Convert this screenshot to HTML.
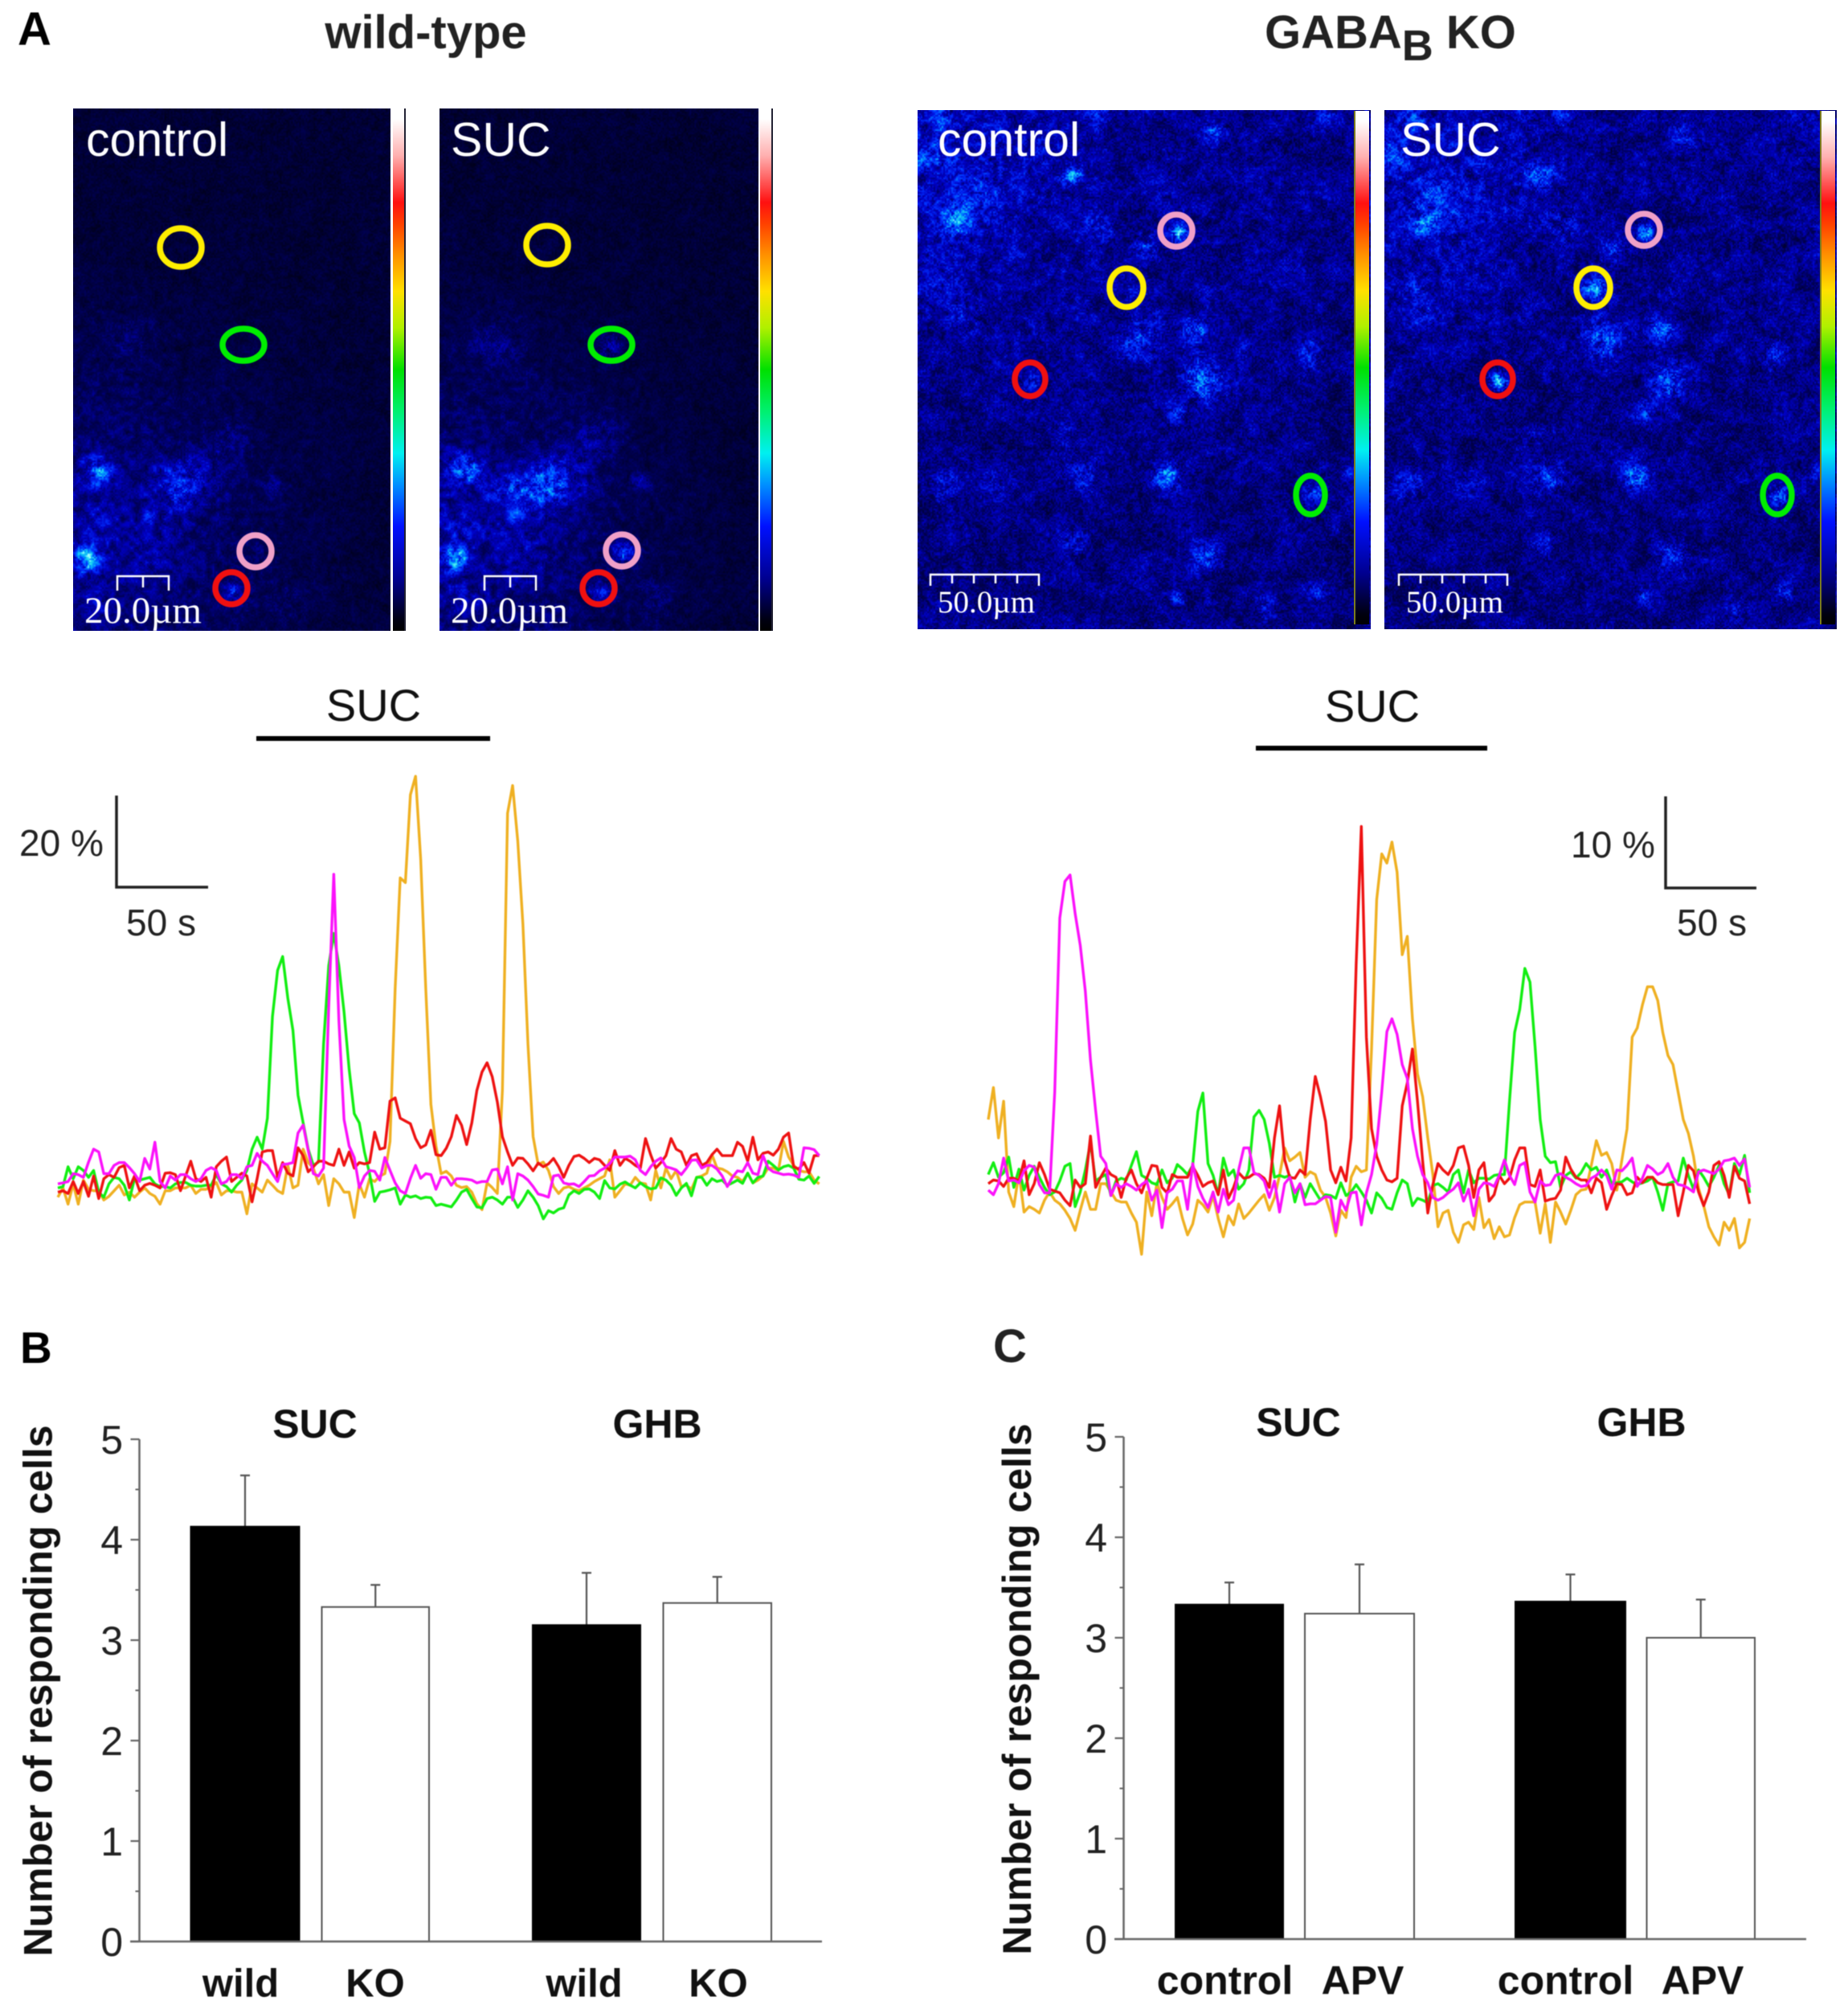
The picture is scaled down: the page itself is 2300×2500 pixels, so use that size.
<!DOCTYPE html>
<html lang="en">
<head>
<meta charset="utf-8">
<title>Calcium imaging responses in wild-type and GABAB KO</title>
<style>
html,body{margin:0;padding:0;background:#fff}
#figure{position:relative;width:2300px;height:2500px;overflow:hidden;background:#fff;font-family:"Liberation Sans",sans-serif}
canvas{position:absolute;display:block}
.cbar{position:absolute;background:linear-gradient(to bottom,#fff 0%,#fff 2%,#ffb0b0 9%,#ff1010 18%,#ff4000 22%,#ff9000 28%,#ffe000 35%,#b0f000 42%,#00e000 50%,#00f070 58%,#00f0f0 66%,#0090ff 72%,#0010ff 80%,#000090 90%,#000010 98%,#000 100%)}
#overlay{position:absolute;left:0;top:0;filter:blur(.6px)}
</style>
</head>
<body>
<div id="figure">
<canvas id="wtControl" style="left:91px;top:135px;width:395px;height:650px"></canvas>
<canvas id="wtSuc" style="left:547px;top:135px;width:397px;height:650px"></canvas>
<canvas id="koControl" style="left:1142px;top:137px;width:564px;height:646px"></canvas>
<canvas id="koSuc" style="left:1723px;top:137px;width:563px;height:646px"></canvas>
<div class="cbar" style="left:489px;top:135px;width:14px;height:650px;border-right:2px solid #223"></div>
<div class="cbar" style="left:946px;top:135px;width:14px;height:650px;border-right:2px solid #223"></div>
<div class="cbar" style="left:1685px;top:138px;width:17px;height:639px;border-left:2px solid #7a7a20"></div>
<div class="cbar" style="left:2265px;top:138px;width:17px;height:639px;border-left:2px solid #7a7a20"></div>

<svg id="overlay" width="2300" height="2500" viewBox="0 0 2300 2500" xmlns="http://www.w3.org/2000/svg" font-family="'Liberation Sans',sans-serif">
  <text x="22" y="56" font-size="58" font-weight="bold" fill="#000">A</text>
  <text x="25" y="1696" font-size="55" font-weight="bold" fill="#000">B</text>
  <text x="1236" y="1695" font-size="58" font-weight="bold" fill="#222">C</text>
  <text x="530" y="60" font-size="58" font-weight="bold" fill="#222" text-anchor="middle">wild-type</text>
  <text x="1574" y="60" font-size="58" font-weight="bold" fill="#222" xml:space="preserve"><tspan>GABA</tspan><tspan dy="15" font-size="54">B</tspan><tspan dy="-15"> KO</tspan></text>

  <g fill="#fff">
    <text x="107" y="194" font-size="59">control</text>
    <text x="561" y="194" font-size="59">SUC</text>
    <text x="1167" y="194" font-size="59">control</text>
    <text x="1743" y="194" font-size="59">SUC</text>
    <g font-family="'Liberation Serif',serif">
      <text x="105" y="775" font-size="47">20.0µm</text>
      <text x="561" y="775" font-size="47">20.0µm</text>
      <text x="1167" y="762" font-size="39">50.0µm</text>
      <text x="1750" y="762" font-size="39">50.0µm</text>
    </g>
  </g>
  <g fill="none" stroke="#fff" stroke-width="2.5">
    <path d="M146 735V717H210V735M178 717V731"/>
    <path d="M603 735V717H667V735M635 717V731"/>
    <path d="M1158 729V715H1293V729M1185 715V726M1212 715V726M1239 715V726M1266 715V726"/>
    <path d="M1741 729V715H1876V729M1768 715V726M1795 715V726M1822 715V726M1849 715V726"/>
  </g>
  <g fill="none" stroke-width="7.5">
    <ellipse cx="225" cy="308" rx="26" ry="24" stroke="#ffee00"/>
    <ellipse cx="303" cy="429" rx="26" ry="20" stroke="#00ee00"/>
    <ellipse cx="318" cy="686" rx="20" ry="20" stroke="#f0a0c8"/>
    <ellipse cx="288" cy="732" rx="20" ry="20" stroke="#f01010"/>
    <ellipse cx="681" cy="305" rx="26" ry="24" stroke="#ffee00"/>
    <ellipse cx="761" cy="429" rx="26" ry="20" stroke="#00ee00"/>
    <ellipse cx="774" cy="685" rx="20" ry="20" stroke="#f0a0c8"/>
    <ellipse cx="745" cy="732" rx="20" ry="20" stroke="#f01010"/>
    <ellipse cx="1464" cy="287" rx="20" ry="20" stroke="#f0a0c8"/>
    <ellipse cx="1402" cy="358" rx="21" ry="24" stroke="#ffee00"/>
    <ellipse cx="1282" cy="472" rx="19" ry="21" stroke="#f01010"/>
    <ellipse cx="1631" cy="616" rx="18" ry="24" stroke="#00ee00"/>
    <ellipse cx="2046" cy="286" rx="20" ry="20" stroke="#f0a0c8"/>
    <ellipse cx="1983" cy="358" rx="21" ry="24" stroke="#ffee00"/>
    <ellipse cx="1864" cy="472" rx="19" ry="21" stroke="#f01010"/>
    <ellipse cx="2212" cy="616" rx="18" ry="24" stroke="#00ee00"/>
  </g>

  <text x="465" y="897" font-size="56" text-anchor="middle" fill="#111">SUC</text>
  <rect x="319" y="916" width="291" height="6" fill="#000"/>
  <path d="M145 990V1104H259" fill="none" stroke="#222" stroke-width="3.5"/>
  <text x="24" y="1065" font-size="46" fill="#222">20 %</text>
  <text x="157" y="1164" font-size="46" fill="#222">50 s</text>

  <text x="1708" y="898" font-size="56" text-anchor="middle" fill="#111">SUC</text>
  <rect x="1563" y="928" width="288" height="6" fill="#000"/>
  <path d="M2073 991V1105H2186" fill="none" stroke="#222" stroke-width="3.5"/>
  <text x="1955" y="1067" font-size="46" fill="#222">10 %</text>
  <text x="2087" y="1164" font-size="46" fill="#222">50 s</text>

  <g id="wtTraces"></g>
  <g id="koTraces"></g>
  <g id="chartB"></g>
  <g id="chartC"></g>
</svg>
</div>

<script>
/* ---------- trace data: percent change from baseline, one sample per index ---------- */
const wtRed=[-2,-1.7,-2.3,.3,-2.3,.3,-2.9,1.5,-3.4,.9,1.8,1.2,3.3,3.8,-1.1,1.5,-1.7,-.5,-.1,-.5,-1.1,2.1,2.2,1.8,-1.7,1.5,4.7,.9,.3,1.2,-3.1,3.5,4.7,5.6,.3,1.2,2.1,1.5,-4.1,.9,6.7,7,7,1.2,4.4,2.1,1.5,7.6,5.9,2.4,3.5,4.7,4.7,4.1,3.8,7.3,3.8,6.7,3.2,4.4,4.1,4.4,11,7.3,7.6,17.7,18.4,14,13.4,12.8,9.6,7.6,8.2,11.4,6.1,5.9,7.5,10,14.6,12.5,8.3,13,20,24,26,23,17.5,10,6.7,3.8,5.4,5.3,4.1,2.6,4.3,3.5,4.1,5.3,3.5,1.2,3.8,5.7,6,5.3,4.4,5.3,5,3.8,2.7,7,3.8,5.3,4.7,3.8,3.2,9.6,6.1,3.2,4.4,5.9,9.6,7.3,6.7,3.8,5.9,6.3,3.8,4.4,6.1,7.3,5.9,5.9,5.9,8.8,7.9,4.7,9.9,5,6.4,6.7,6,7.3,9.9,10.8,3.5,3,4.4,2.1,5.9,5.9];
const wtGreen=[-1.1,-.8,3.5,.9,3.5,2.7,1.2,2.7,-2,-3.1,-.2,1.2,.9,-.5,-3.7,.9,.6,.9,1.2,-.2,-.8,-.8,-1.1,-.2,.1,.1,-.5,-.7,-.7,-.5,-.5,1.8,-.2,-.8,-2,-.5,.6,2.7,7.3,9.9,7.3,14,36,46,49,40,33,19,13,7.3,3.8,4.5,30,47,54,47,37,24.7,15,13,6.7,2,-4,-2,-1.8,-1.5,-1.1,-4.6,-2.6,-3.1,-2.8,-3.4,-3.1,-3.2,-4.9,-4.6,-4.9,-5.2,-3.7,-2,-1.4,-3.4,-5.2,-5.4,-3.4,-3.1,-3.7,-4.6,-3.1,-3.1,-5.3,-3.7,-1.7,-3.1,-4.9,-7.8,-6,-6.5,-5.7,-5.4,-2.6,-1.7,-2.3,-1.4,-1.3,-2,-3.4,.5,-1.1,-1.3,-.3,.2,-.5,-1.1,0,-.8,-1.3,-1.1,1.1,.6,-.5,-2.7,-1.1,-.1,-2.8,1.2,1.2,-.5,.9,.3,.6,-.5,0,.6,-.1,2.1,0,1.2,1.5,4.7,3.8,2.8,3.5,3.8,3.2,.8,.6,1.5,-.1,1.4];
const wtMagenta=[-.2,0,.3,2,1.8,1.2,4.5,7.3,6.7,2,2,3.8,4.4,4.4,3.3,2,.3,5.3,3,8.8,.3,-1.1,1.5,.6,1.8,1.8,.9,.3,.9,2.7,3.3,2.7,-.2,.3,1.8,1.8,.9,3.5,3.8,6.4,4.7,3.8,2,.3,4,4.1,4.4,10.8,12.5,7,2,1.5,3.2,38,66.8,35,13.7,8,5.5,-1,1.5,2.7,2.5,.6,5.5,2.7,0,-1.7,-2.3,1,3.8,1,2,1.8,-1.4,1.2,1.2,-.5,.9,.9,.8,.6,0,.3,.3,2.8,3,-.2,3.5,-3.7,2,1.5,.6,-.8,-2.4,-2.7,-3.1,1.5,1.7,0,-.3,-.2,-.8,.3,1.5,1.6,2.6,3.2,4.2,5.6,5.6,5.6,5.8,5,2.7,1.8,3.5,4.7,5.4,3.5,3.2,2.8,1.8,3.2,4.9,5,3.2,3.8,3.8,3,1.5,-.8,1.2,2.6,2.4,4.4,2.1,1.8,5.9,3.2,2.4,2.1,1.8,1.9,1.7,1.2,7.6,7.5,7.2,5.9];
const wtOrange=[-3.1,-1.1,-4.6,-.2,-4.6,.6,-1.4,-1.7,-1.7,-3.7,-2.9,-1.7,-.5,-2.6,-2,-3.1,-2,-1.1,-2.3,-2.9,-4.6,-1.7,-1.7,-1.1,-1.1,-1.1,-.5,-2.3,-1.4,-1.4,-.8,.1,-2.6,-1.7,-1.7,-2,-2,-6.7,-.2,-1.1,-2,.6,-.5,-1.7,-2.3,3.8,-1.1,-.5,7.3,4.4,3.2,-.2,1.8,-4.9,.9,-.2,-2,-2,-7.5,-.2,-3.1,.9,.3,1.5,2,9,42,66,65,84,88,70,42,17,8,2,2.5,1.5,-.5,-1,-.8,-2,-4.5,-5.8,0,-1,-2.3,20,80,86,74,56,30,10,4,4.5,2.7,-.8,-2.3,-1.1,-.8,-1.4,-1.7,-1.1,-.5,.3,.9,1.5,5,-3.1,-1.7,-.2,-.5,1.2,0,-.2,-3.7,2.7,-1.1,3.2,.9,2.7,-.8,-.5,-1.4,1.2,1.5,2.1,6.1,3.2,3,2.4,1.5,1.2,.3,2.1,0,.6,1.5,3.2,3.2,2.7,9,5.6,3.8,2.7,2.4,2.4,.6,-.2];

const koRed=[0,.4,.3,-.3,.6,.6,.3,2.5,-1.2,0,2.3,1,-.6,-.8,-1,-1.8,-2.4,.4,-.4,0,5.2,-.4,.7,1.7,1,.7,-1.5,.6,1.5,0,-1,.6,2,1.9,-.4,-1,1,.7,.7,.7,1.9,.9,-.3,.1,.3,-1.2,1.5,-1.6,-.4,1.2,.6,.7,1.1,1,.6,-.4,5,8.5,2.6,.7,.6,1.5,1,7,11.7,9.5,6.8,1.5,.1,1.8,.3,5,24,39,16,6,3,1.5,.4,.2,.6,8.5,11,14.7,9,2.5,-3.2,-.1,2.2,1.5,1,2,3.9,4.1,2,-1.5,1.5,2.3,-1.9,-1.2,.9,0,.6,2.6,3.9,3.9,-.1,-.3,1.5,-1.9,-1.7,-1.6,-.7,2.9,1.6,.7,.4,.4,-1,.6,.1,-2.8,-1.3,0,-.1,-1.2,-1,.7,.1,.7,.7,.1,-.1,-.1,-.1,-3.5,-.9,2,1.4,-.9,-2.4,-.9,2,2.4,.9,-1.5,1.9,.6,.3,-2.2];
const koGreen=[1,2.3,.7,1.2,2.9,-.4,1.6,-.7,.9,1.9,.7,-.4,-1.2,-.9,.3,1.9,2.2,-2.5,-.9,1.5,4.5,.3,.7,1,-1.3,.3,.6,.4,2,3.5,.9,.6,.1,-.1,1.5,.1,.6,2.1,1.6,1,2,7.9,9.9,2.2,.9,-1.2,2.8,.9,1.5,-.6,0,1.5,7.3,8,7,4.4,.7,.9,.7,.9,-2,0,-1.5,0,-.9,-1.8,-1.2,-1.3,-1.6,.1,-1.3,-.9,-.1,-.9,-1.8,-3.2,-1,-1.6,-2.6,-2.8,-1,.4,0,-2.4,-1.6,-1.8,-2.1,-.2,0,-.4,-.9,1,1.5,-1,1.5,.1,.6,.6,.5,.9,1,1,9,16.5,19,23.5,22,15,7,3,2.3,2.4,-.4,.9,1.3,.6,1.2,2.2,1.5,1.8,.7,1.5,0,.1,.2,.6,.2,-.1,.1,.3,.7,-.9,-2.9,0,.2,.3,2.8,.9,-.6,1.5,.7,-.3,.7,2,0,-1.2,2.2,1,3.1,-1];
const koMagenta=[-.7,-1.2,0,2.8,.3,.4,.1,1.4,2,1.8,-.1,-1,-1,10,29,33,33.7,29.5,26,21,13.5,8,3,2.2,-1.3,0,-.4,0,-.3,-.7,-.1,.3,-1.8,-.7,-4.8,-1,-.6,.3,.3,-2.8,2.2,-.3,-1.6,-2.6,-.9,-3.1,-.6,-2.3,-1.8,1.5,3.9,3.9,1.2,.9,.3,-1.5,.3,-3.1,0,.7,-1,0,-2.3,-2.2,-2.2,-1.8,-1.4,-1.5,-5.3,-1.8,-2.9,-1,-.9,-4.5,-1,1,4.3,10,16.6,18,16.3,13,11.5,6,3,1,.1,-1.5,-1.8,-1.5,-1,-.6,.1,-1.9,-.6,-3.5,-.6,.1,0,-.3,.9,2.6,.9,-.1,2,2.3,-.9,-2,.3,-.2,-.1,.9,1.1,.7,.4,0,-.3,-.2,.6,.9,1.5,.9,-.6,1.5,1.4,2,2.8,-.3,.6,2,1.6,1,1.3,2.2,.7,-.1,-.2,-.5,-.9,1.3,1.5,1.3,1.1,1.6,2.5,2.6,2.8,2,2.7,-.4];
const koOrange=[7,10.5,5,9,-.9,-2.5,1.2,-3.1,-2.5,-2.8,-3.2,-1.8,-.9,-1.8,-2.2,-2.9,-3.8,-5.1,-2.9,-.9,-2.8,-2.8,0,0,-.9,-1.8,-2,-2,-3.2,-4.2,-7.7,-.9,-3.5,.1,-1.5,-2.8,-2.2,-1.5,-3.8,-5.6,-4.4,-1.8,-2.3,-3.1,-1.3,-3.8,-5.8,-3.5,-4.5,-2.2,-3.8,-3.2,-2.5,-1.8,-1.2,-2.9,-1.5,.9,3.9,2.5,2.9,3.4,.7,1.3,1,-.7,-1.5,-3.2,-5.7,-2.9,-3.7,.7,1.9,1.3,1.5,14.7,31,36,35,37.3,34,25,27,18,12,9.5,5,1,-4.7,-3.2,-2.9,-5.3,-6.4,-4.5,-4.2,-5,-1.5,-4.8,-3.9,-6,-4.7,-5.8,-5.6,-3.7,-2.3,-2,-2,-2,-5.4,-2.2,-6.4,-2,-3.1,-4.4,-2.9,-1.2,-.7,-.6,2,4.7,3.1,3.4,2.2,-.7,2.6,6,16,17,19.5,21.5,21.5,20,16.5,14,13,10,7,5.5,3,-.5,-2.4,-4.7,-5.8,-6.7,-4.2,-5.1,-3.8,-7,-6.4,-3.8];

/* ---------- bar chart data ---------- */
const yTicks=[0,1,2,3,4,5];
const yMinorTicks=[.5,1.5,2.5,3.5,4.5];
const bCategories=['wild','KO','wild','KO'];
const bValues=[4.13,3.33,3.15,3.37];
const bErrors=[.51,.22,.52,.26];
const bGroups=['SUC','GHB'];
const cCategories=['control','APV','control','APV'];
const cValues=[3.33,3.24,3.36,3.0];
const cErrors=[.22,.49,.27,.38];
const cGroups=['SUC','GHB'];

const NS='http://www.w3.org/2000/svg';
function mk(parent,tag,attrs,txt){
  const el=document.createElementNS(NS,tag);
  for(const k in attrs) el.setAttribute(k,attrs[k]);
  if(txt!==undefined) el.textContent=txt;
  parent.appendChild(el);
  return el;
}

/* ---------- traces ---------- */
function drawTraces(groupId,prefix,x0,dx,y0,pxPerPct,seriesList){
  const g=document.getElementById(groupId);
  const xScale=i=>x0+i*dx;
  const yScale=v=>y0-v*pxPerPct;
  seriesList.forEach(s=>{
    const d=s.values.map((v,i)=>(i?'L':'M')+xScale(i).toFixed(1)+' '+yScale(v).toFixed(1)).join('');
    const el=mk(g,'path',{d:d,fill:'none',stroke:s.color,'stroke-width':3.4,'stroke-linejoin':'round'});
    
    
  });
}
drawTraces('wtTraces','wt',72,6.36,1472,5.75,[
  {name:'orange',color:'#efb022',values:wtOrange},
  {name:'green',color:'#12ee12',values:wtGreen},
  {name:'red',color:'#ee1212',values:wtRed},
  {name:'magenta',color:'#fb12fb',values:wtMagenta}
]);
drawTraces('koTraces','ko',1230,6.36,1473,11.4,[
  {name:'orange',color:'#efb022',values:koOrange},
  {name:'green',color:'#12ee12',values:koGreen},
  {name:'red',color:'#ee1212',values:koRed},
  {name:'magenta',color:'#fb12fb',values:koMagenta}
]);

/* ---------- bar charts ---------- */
function drawBars(cfg){
  const g=document.getElementById(cfg.id);
  const yScale=v=>cfg.y0-v*(cfg.y0-cfg.y5)/5;
  const p=cfg.prefix;
  const title=mk(g,'text',{x:cfg.titleX,y:cfg.titleY,'font-size':50,'font-weight':'bold','text-anchor':'middle',fill:'#111',transform:'rotate(-90 '+cfg.titleX+' '+cfg.titleY+')'},'Number of responding cells');
  
  

  cfg.values.forEach((v,i)=>{
    const L=cfg.barL[i],R=cfg.barR[i],cx=(L+R)/2,top=yScale(v+cfg.errors[i]);
    const err=mk(g,'path',{d:'M'+cx+' '+yScale(v)+'V'+top+'M'+(cx-6)+' '+top+'H'+(cx+6),fill:'none',stroke:'#555','stroke-width':2.2});
    
    
    const bar=mk(g,'rect',{x:L,y:yScale(v),width:R-L,height:cfg.y0-yScale(v),fill:i%2?'#fff':'#000',stroke:i%2?'#555':'#000','stroke-width':2});
    
    
    const lab=mk(g,'text',{x:cfg.labelX[i],y:cfg.labelY,'font-size':cfg.labelSize,'font-weight':'bold','text-anchor':'middle',fill:'#111'},cfg.categories[i]);
    
    
  });

  const yAxis=mk(g,'path',{d:'M'+cfg.axisX+' '+yScale(5)+'V'+cfg.y0+'M'+cfg.xStart+' '+cfg.y0+'H'+cfg.xEnd,fill:'none',stroke:'#666','stroke-width':2.5});
  
  

  yTicks.forEach(t=>{
    const y=yScale(t);
    const tick=mk(g,'line',{x1:cfg.axisX-11,x2:cfg.axisX,y1:y,y2:y,stroke:'#666','stroke-width':2.2});
    
    
    const lab=mk(g,'text',{x:cfg.tickRight,y:y+18,'font-size':50,'text-anchor':'end',fill:'#222'},String(t));
    
    
  });
  yMinorTicks.forEach(t=>{
    const y=yScale(t);
    const tick=mk(g,'line',{x1:cfg.axisX-5,x2:cfg.axisX,y1:y,y2:y,stroke:'#666','stroke-width':2});
    
    
  });
  cfg.groups.forEach((name,i)=>{
    const t=mk(g,'text',{x:cfg.groupX[i],y:cfg.groupY,'font-size':50,'font-weight':'bold','text-anchor':'middle',fill:'#111'},name);
    
    
  });
}
drawBars({id:'chartB',prefix:'b',y0:2416,y5:1791,axisX:173.5,xStart:162,xEnd:1023,tickRight:153,
  barL:[237.5,400.5,663,825.5],barR:[372.5,534,797,960],values:bValues,errors:bErrors,categories:bCategories,labelSize:49,
  labelX:[299.5,467,727,894],labelY:2484.5,groups:bGroups,groupX:[392,818],groupY:1789,titleX:64.5,titleY:2104});
drawBars({id:'chartC',prefix:'c',y0:2413,y5:1788,axisX:1398.5,xStart:1387,xEnd:2248,tickRight:1378,
  barL:[1463,1624,1886,2049.5],barR:[1597,1760,2023,2184],values:cValues,errors:cErrors,categories:cCategories,labelSize:50,
  labelX:[1524.5,1696,1948.5,2119],labelY:2481.5,groups:cGroups,groupX:[1616,2043],groupY:1787,titleX:1283,titleY:2102});

/* ---------- fluorescence images (procedural texture) ---------- */
const colorStops=[[0,[0,0,26]],[.2,[0,0,90]],[.4,[0,0,195]],[.55,[0,48,255]],[.7,[0,144,255]],[.85,[32,224,240]],[1,[170,255,255]]];
function cmap(v){
  v=Math.max(0,Math.min(1,v));
  for(let i=1;i<colorStops.length;i++){
    if(v<=colorStops[i][0]){
      const a=colorStops[i-1],b=colorStops[i],t=(v-a[0])/(b[0]-a[0]);
      return [0,1,2].map(k=>a[1][k]+(b[1][k]-a[1][k])*t);
    }
  }
  return colorStops[colorStops.length-1][1];
}
function rng(seed){return function(){seed|=0;seed=seed+0x6D2B79F5|0;let t=Math.imul(seed^seed>>>15,1|seed);t=t+Math.imul(t^t>>>7,61|t)^t;return((t^t>>>14)>>>0)/4294967296;};}
function paint(id,W,H,seed,base,nAmp,lowAmp,glows,blobs){
  const cv=document.getElementById(id),w=Math.round(W/2),h=Math.round(H/2);
  cv.width=w;cv.height=h;
  const ctx=cv.getContext('2d'),img=ctx.createImageData(w,h),r=rng(seed);
  const gw=Math.ceil(w/10)+2,gh=Math.ceil(h/10)+2,grid=[];
  for(let i=0;i<gw*gh;i++)grid.push(r());
  const fw=Math.ceil(w/3)+2,fh=Math.ceil(h/3)+2,fine=[];
  for(let i=0;i<fw*fh;i++)fine.push(r());
  for(let y=0;y<h;y++)for(let x=0;x<w;x++){
    const gx=x/10,gy=y/10,ix=Math.floor(gx),iy=Math.floor(gy),fx=gx-ix,fy=gy-iy;
    const low=(grid[iy*gw+ix]*(1-fx)+grid[iy*gw+ix+1]*fx)*(1-fy)+(grid[(iy+1)*gw+ix]*(1-fx)+grid[(iy+1)*gw+ix+1]*fx)*fy;
    const hx=x/3,hy=y/3,jx=Math.floor(hx),jy=Math.floor(hy),qx=hx-jx,qy=hy-jy;
    const mid=(fine[jy*fw+jx]*(1-qx)+fine[jy*fw+jx+1]*qx)*(1-qy)+(fine[(jy+1)*fw+jx]*(1-qx)+fine[(jy+1)*fw+jx+1]*qx)*qy;
    const px=x*W/w,py=y*H/h;
    let v=base+lowAmp*low,boost=0;
    glows.forEach(b=>{const dx=px-b[0],dy=py-b[1];v+=b[2]*Math.exp(-(dx*dx+dy*dy)/(2*b[3]*b[3]))*(.6+.8*mid);});
    blobs.forEach(b=>{const dx=px-b[0],dy=py-b[1];boost+=b[2]*Math.exp(-(dx*dx+dy*dy)/(2*b[3]*b[3]));});
    const n=r();
    v+=nAmp*(n-.5)+nAmp*.8*(mid-.5)+boost*(.35+.4*n+.6*mid);
    const c=cmap(v),k=(y*w+x)*4;
    img.data[k]=c[0];img.data[k+1]=c[1];img.data[k+2]=c[2];img.data[k+3]=255;
  }
  ctx.putImageData(img,0,0);
}
/* blob tables: x, y, strength control, strength SUC, radius, in the panel's own pixels after conversion */
const wtSpots=[[190,1145,.42,.46,20],[345,1185,.28,.36,30],[170,1360,.55,.52,16],[180,1280,.12,.14,30],[290,1255,.2,.3,9],[250,830,.07,.12,34],[450,1060,.08,.12,28],[530,1175,.14,.18,12],[455,1440,.3,.34,13],[500,1345,.04,.5,13],[475,840,.02,.26,16],[352,600,.02,.05,16],[560,1460,.08,.1,22],[300,1340,.08,.1,35],[190,1450,.1,.12,28],[400,1150,.1,.12,35],[285,1190,.03,.2,22],[240,1190,.03,.14,16]];
const koSpots=[[115,540,.3,.3,17],[305,425,.36,.36,14],[345,555,.18,.18,20],[425,600,.22,.22,15],[478,565,.45,.45,12],[395,700,.14,.42,15],[505,800,.34,.34,15],[410,825,.24,.26,27],[690,860,.24,.24,16],[585,860,.12,.12,13],[515,925,.38,.32,24],[240,925,.3,.55,11],[475,1005,.2,.18,16],[320,1160,.24,.24,20],[460,1155,.4,.38,17],[95,1180,.2,.18,20],[180,1170,.12,.12,18],[695,1205,.24,.36,13],[310,1320,.22,.18,15],[520,1355,.24,.22,19],[475,1455,.3,.26,9],[700,1440,.16,.15,16],[620,1480,.16,.16,16],[535,325,.24,.2,15],[95,290,.22,.18,16],[70,370,.2,.16,20],[755,1150,.18,.18,9],[120,770,.12,.12,16],[520,708,.14,.14,10],[100,700,.1,.1,18],[345,280,.14,.12,14],[720,280,.16,.12,14],[290,1070,.1,.1,20],[140,470,.12,.12,34]];
function spotsFor(list,ox,oy,sx,sy,idx){return list.map(s=>[(s[0]-ox)/sx,(s[1]-oy)/sy,s[idx],s[4]/1.4]);}
const wtGlow=[[30,540,.2,165]];
const koGlow=[[40,60,.12,140],[520,60,.03,130]];
paint('wtControl',395,650,11,.065,.1,.04,wtGlow,spotsFor(wtSpots,142,265,1.565,1.956,2));
paint('wtSuc',397,650,23,.065,.1,.04,wtGlow,spotsFor(wtSpots,142,265,1.565,1.956,3));
paint('koControl',564,646,37,.2,.2,.14,koGlow,spotsFor(koSpots,55,268,1.304,1.956,2));
paint('koSuc',563,646,51,.2,.2,.14,koGlow,spotsFor(koSpots,55,268,1.304,1.956,3));
</script>
</body>
</html>
